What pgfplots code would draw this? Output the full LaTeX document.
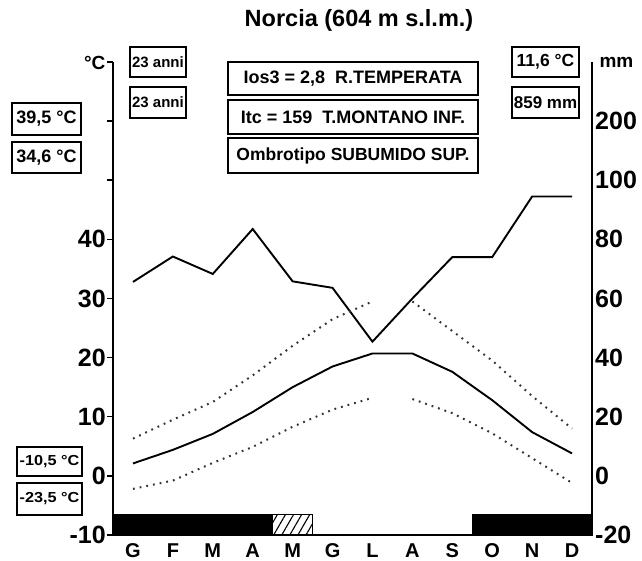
\documentclass[border=0pt]{standalone}
\usepackage{fontspec}
\setmainfont{Liberation Sans}
\usepackage{graphicx}
\usepackage{pgfplots}
\usepackage{pgfplotstable}
\pgfplotsset{compat=1.18}
\usetikzlibrary{patterns.meta}

\pgfplotstableread{
m    t     p
0.5  2.1   65.6
1.5  4.4   74.2
2.5  7.1   68.3
3.5  10.8  83.5
4.5  15.0  65.8
5.5  18.5  63.6
6.5  20.7  45.4
7.5  20.7  60.0
8.5  17.6  74.0
9.5  12.8  74.0
10.5 7.4   94.5
11.5 3.8   94.5
}\clima

\pgfplotstableread{
m    hi    lo
0.5  6.3   -2.2
1.5  9.5   -0.8
2.5  12.5  2.2
3.5  17.0  4.9
4.5  22.0  8.3
5.5  26.5  11.2
6.5  29.5  13.2
7.0  nan   nan
7.5  29.5  13.0
8.5  24.5  10.6
9.5  19.5  7.2
10.5 13.5  3.0
11.5 8.0   -1.2
}\estremi

\tikzset{bx/.style={draw, line width=1.3pt, inner sep=0pt, align=center}}

\begin{document}
\begin{tikzpicture}[x=1pt,y=1pt]
\useasboundingbox (0,0) rectangle (642,561);
\begin{axis}[
  at={(113pt,26pt)}, anchor=south west,
  scale only axis, width=479pt, height=473pt,
  xmin=0, xmax=12, ymin=-10, ymax=70,
  axis x line*=bottom, axis y line*=left,
  axis line style={-, line width=2.2pt},
  xtick={0.5,1.5,...,11.5},
  xticklabels={G,F,M,A,M,G,L,A,S,O,N,D},
  xtick style={draw=none},
  xticklabel style={font=\fontsize{20}{22}\bfseries\selectfont, inner sep=1pt, yshift=-1pt, text height=14.5pt, text depth=0pt},
  ytick={-10,0,10,20,30,40,50,60,70},
  yticklabels={-10,0,10,20,30,40,,,},
  tick align=outside,
  major tick length=6pt,
  ytick style={line width=1.5pt, black},
  yticklabel style={font=\fontsize{25}{27}\bfseries\selectfont, inner sep=1pt},
  unbounded coords=jump,
  clip=false,
]
\addplot[fill=black, draw=black] coordinates {(0,-10) (4,-10) (4,-6.5) (0,-6.5)} -- cycle;
\addplot[draw=black, line width=0.8pt, pattern={Lines[angle=60, distance=7pt, line width=1.1pt]}] coordinates {(4,-10) (5,-10) (5,-6.5) (4,-6.5)} -- cycle;
\addplot[fill=black, draw=black] coordinates {(9,-10) (12,-10) (12,-6.5) (9,-6.5)} -- cycle;
\addplot[line width=1.9pt, black] table[x=m, y=t] {\clima};
\addplot[line width=1.9pt, black] table[x=m, y expr=\thisrow{p}/2] {\clima};
\addplot[line width=2pt, black!80, dash pattern=on 1.8pt off 5pt] table[x=m, y=hi] {\estremi};
\addplot[line width=2pt, black!80, dash pattern=on 1.8pt off 5pt] table[x=m, y=lo] {\estremi};
\end{axis}
\begin{axis}[
  at={(113pt,26pt)}, anchor=south west,
  scale only axis, width=479pt, height=473pt,
  xmin=0, xmax=12, ymin=-10, ymax=70,
  axis x line=none, axis y line*=right,
  axis line style={-, line width=2.2pt},
  ytick={-10,0,10,20,30,40,50,60},
  yticklabels={-20,0,20,40,60,80,100,200},
  major tick length=0pt,
  yticklabel style={font=\fontsize{25}{27}\bfseries\selectfont, inner sep=1pt, xshift=2pt},
]
\end{axis}
\node[font=\fontsize{23.5}{26}\bfseries\selectfont] at (359,541) {Norcia (604 m s.l.m.)};
\node[font=\fontsize{19}{21}\bfseries\selectfont, anchor=base east] at (109,491) {°C};
\node[font=\fontsize{19}{21}\bfseries\selectfont, anchor=base west] at (596,493) {mm};
\node[bx, minimum width=56pt, minimum height=30pt, font=\fontsize{15}{17}\bfseries\selectfont] at (158,499) {23 anni};
\node[bx, minimum width=56pt, minimum height=31pt, font=\fontsize{15}{17}\bfseries\selectfont] at (158,458.5) {23 anni};
\node[bx, minimum width=69pt, minimum height=32pt, font=\fontsize{18}{20}\bfseries\selectfont] at (46.5,442) {39,5 °C};
\node[bx, minimum width=69pt, minimum height=31pt, font=\fontsize{18}{20}\bfseries\selectfont] at (46.5,403.5) {34,6 °C};
\node[bx, minimum width=250pt, minimum height=33pt, font=\fontsize{18}{20}\bfseries\selectfont] at (353,482.5) {Ios3 = 2,8\ \ R.TEMPERATA};
\node[bx, minimum width=250pt, minimum height=34pt, font=\fontsize{18}{20}\bfseries\selectfont] at (353,444) {Itc = 159\ \ T.MONTANO INF.};
\node[bx, minimum width=250pt, minimum height=35pt, font=\fontsize{17.5}{20}\bfseries\selectfont] at (353,405.5) {Ombrotipo SUBUMIDO SUP.};
\node[bx, minimum width=67pt, minimum height=30pt, font=\fontsize{17.5}{19}\bfseries\selectfont] at (545.5,499) {11,6 °C};
\node[bx, minimum width=67pt, minimum height=31pt, font=\fontsize{17}{19}\bfseries\selectfont] at (545.5,458.5) {859 mm};
\node[bx, minimum width=65pt, minimum height=29pt, font=\fontsize{14.5}{16}\bfseries\selectfont] at (49.5,99.5) {\scalebox{1.12}[1]{-10,5 °C}};
\node[bx, minimum width=65pt, minimum height=32pt, font=\fontsize{14.5}{16}\bfseries\selectfont] at (49.5,62) {\scalebox{1.12}[1]{-23,5 °C}};
\end{tikzpicture}
\end{document}
